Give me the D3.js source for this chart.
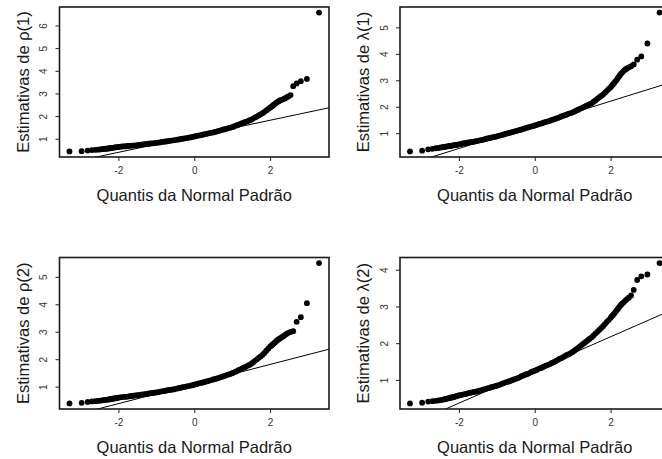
<!DOCTYPE html>
<html>
<head>
<meta charset="utf-8">
<script src="https://cdn.jsdelivr.net/npm/d3@7"></script>
<style>
  html, body { margin: 0; padding: 0; background: #fff; }
  svg { display: block; }
</style>
</head>
<body>
<svg id="fig" width="662" height="459"></svg>
<script>
// Quantis teóricos da normal padrão dos pontos desenhados (caudas + faixa central)
const quantisNormais = [
  -3.29, -2.97, -2.81, -2.70, -2.61, -2.54, -2.48, -2.43, -2.39, -2.35,
  -2.31, -2.27, -2.24, -2.21, -2.18, -2.15, -2.12, -2.09, -2.06, -2.03,
  -2.00, -1.95, -1.90, -1.85, -1.80, -1.75, -1.70, -1.65, -1.60, -1.55, -1.50,
  -1.45, -1.40, -1.35, -1.30, -1.25, -1.20, -1.15, -1.10, -1.05, -1.00,
  -0.95, -0.90, -0.85, -0.80, -0.75, -0.70, -0.65, -0.60, -0.55, -0.50,
  -0.45, -0.40, -0.35, -0.30, -0.25, -0.20, -0.15, -0.10, -0.05, 0.00,
  0.05, 0.10, 0.15, 0.20, 0.25, 0.30, 0.35, 0.40, 0.45, 0.50,
  0.55, 0.60, 0.65, 0.70, 0.75, 0.80, 0.85, 0.90, 0.95, 1.00,
  1.05, 1.10, 1.15, 1.20, 1.25, 1.30, 1.35, 1.40, 1.45, 1.50,
  1.55, 1.60, 1.65, 1.70, 1.75, 1.80,
  1.85, 1.90, 1.95, 2.00,
  2.03, 2.06, 2.09, 2.12, 2.15, 2.18, 2.21, 2.24, 2.27, 2.31,
  2.35, 2.39, 2.43, 2.48, 2.54, 2.61, 2.70, 2.81, 2.97, 3.29
];

// Estimativas ordenadas de rho(1)
const estRho1 = [
  0.44, 0.45, 0.48, 0.50, 0.51, 0.52, 0.53, 0.54, 0.55, 0.56,
  0.56, 0.57, 0.58, 0.58, 0.59, 0.60, 0.61, 0.62, 0.62, 0.63,
  0.64, 0.65, 0.66, 0.66, 0.67, 0.68, 0.69, 0.70, 0.70, 0.71, 0.72,
  0.73, 0.74, 0.75, 0.76, 0.77, 0.78, 0.79, 0.80, 0.81, 0.82,
  0.83, 0.84, 0.86, 0.87, 0.88, 0.89, 0.91, 0.92, 0.93, 0.94,
  0.96, 0.97, 0.99, 1.00, 1.02, 1.03, 1.05, 1.06, 1.08, 1.10,
  1.12, 1.14, 1.15, 1.17, 1.19, 1.21, 1.23, 1.25, 1.26, 1.28,
  1.30, 1.33, 1.35, 1.37, 1.40, 1.42, 1.44, 1.47, 1.49, 1.51,
  1.54, 1.58, 1.61, 1.64, 1.68, 1.71, 1.74, 1.77, 1.81, 1.84,
  1.89, 1.94, 1.98, 2.03, 2.08, 2.13,
  2.19, 2.25, 2.31, 2.37,
  2.41, 2.45, 2.49, 2.53, 2.57, 2.61, 2.64, 2.67, 2.70, 2.72,
  2.75, 2.78, 2.82, 2.87, 2.93, 3.32, 3.44, 3.54, 3.64, 6.57
];

// Estimativas ordenadas de lambda(1)
const estLambda1 = [
  0.31, 0.34, 0.39, 0.41, 0.43, 0.44, 0.46, 0.47, 0.48, 0.49,
  0.50, 0.51, 0.52, 0.52, 0.53, 0.54, 0.55, 0.55, 0.56, 0.57,
  0.58, 0.59, 0.61, 0.62, 0.63, 0.65, 0.66, 0.67, 0.68, 0.70, 0.71,
  0.73, 0.74, 0.76, 0.78, 0.80, 0.81, 0.83, 0.85, 0.86, 0.88,
  0.90, 0.92, 0.94, 0.96, 0.98, 1.00, 1.02, 1.04, 1.06, 1.08,
  1.10, 1.12, 1.14, 1.16, 1.19, 1.21, 1.23, 1.25, 1.27, 1.29,
  1.31, 1.34, 1.36, 1.38, 1.41, 1.43, 1.45, 1.47, 1.50, 1.52,
  1.55, 1.57, 1.60, 1.63, 1.66, 1.68, 1.71, 1.74, 1.76, 1.79,
  1.82, 1.86, 1.89, 1.93, 1.96, 1.99, 2.03, 2.06, 2.10, 2.13,
  2.19, 2.24, 2.30, 2.35, 2.41, 2.46,
  2.53, 2.60, 2.67, 2.74,
  2.79, 2.84, 2.89, 2.95, 3.00, 3.06, 3.12, 3.18, 3.24, 3.30,
  3.36, 3.41, 3.45, 3.49, 3.53, 3.60, 3.78, 3.90, 4.39, 5.56
];

// Estimativas ordenadas de rho(2)
const estRho2 = [
  0.39, 0.41, 0.44, 0.46, 0.47, 0.48, 0.49, 0.50, 0.51, 0.52,
  0.52, 0.53, 0.54, 0.54, 0.55, 0.56, 0.57, 0.57, 0.58, 0.59,
  0.60, 0.61, 0.62, 0.63, 0.63, 0.64, 0.65, 0.66, 0.67, 0.68, 0.69,
  0.70, 0.71, 0.72, 0.73, 0.74, 0.75, 0.76, 0.77, 0.78, 0.79,
  0.80, 0.82, 0.83, 0.84, 0.85, 0.87, 0.88, 0.89, 0.90, 0.92,
  0.93, 0.95, 0.96, 0.98, 0.99, 1.01, 1.02, 1.04, 1.05, 1.07,
  1.09, 1.11, 1.13, 1.14, 1.16, 1.18, 1.20, 1.22, 1.24, 1.26,
  1.28, 1.30, 1.32, 1.35, 1.37, 1.39, 1.42, 1.44, 1.46, 1.49,
  1.52, 1.55, 1.59, 1.62, 1.66, 1.69, 1.72, 1.76, 1.79, 1.83,
  1.88, 1.94, 1.99, 2.05, 2.10, 2.16,
  2.23, 2.31, 2.38, 2.46,
  2.49, 2.53, 2.57, 2.60, 2.64, 2.68, 2.71, 2.74, 2.77, 2.80,
  2.84, 2.88, 2.92, 2.96, 2.99, 3.02, 3.36, 3.53, 4.04, 5.50
];

// Estimativas ordenadas de lambda(2)
const estLambda2 = [
  0.36, 0.38, 0.41, 0.42, 0.43, 0.44, 0.45, 0.46, 0.47, 0.48,
  0.49, 0.50, 0.51, 0.52, 0.52, 0.53, 0.54, 0.55, 0.56, 0.57,
  0.58, 0.59, 0.60, 0.61, 0.62, 0.64, 0.65, 0.66, 0.67, 0.68, 0.69,
  0.71, 0.72, 0.74, 0.75, 0.77, 0.78, 0.80, 0.81, 0.83, 0.84,
  0.86, 0.88, 0.90, 0.92, 0.94, 0.95, 0.97, 0.99, 1.01, 1.03,
  1.05, 1.07, 1.10, 1.12, 1.14, 1.16, 1.18, 1.21, 1.23, 1.25,
  1.27, 1.30, 1.32, 1.34, 1.37, 1.39, 1.41, 1.43, 1.46, 1.48,
  1.51, 1.54, 1.57, 1.59, 1.62, 1.65, 1.68, 1.70, 1.73, 1.76,
  1.80, 1.84, 1.88, 1.92, 1.96, 2.00, 2.04, 2.08, 2.12, 2.16,
  2.21, 2.26, 2.31, 2.36, 2.41, 2.46,
  2.52, 2.58, 2.63, 2.69,
  2.73, 2.76, 2.80, 2.84, 2.88, 2.92, 2.96, 3.00, 3.04, 3.08,
  3.12, 3.16, 3.20, 3.24, 3.30, 3.45, 3.72, 3.82, 3.87, 4.18
];

// Reta de referência (qqline) de cada painel: intercepto e inclinação
const retaIntercepto = [1.109, 1.316, 1.095, 1.270];
const retaInclinacao = [0.354, 0.447, 0.357, 0.452];

const ticksX = [-2, 0, 2];
const ticksY = [[1, 2, 3, 4, 5, 6], [1, 2, 3, 4, 5], [1, 2, 3, 4, 5], [1, 2, 3, 4]];
const rotulosY = ["Estimativas de ρ(1)", "Estimativas de λ(1)", "Estimativas de ρ(2)", "Estimativas de λ(2)"];
const rotuloX = "Quantis da Normal Padrão";

const series = [estRho1, estLambda1, estRho2, estLambda2];

// Regiões de plotagem dos quatro painéis (2 x 2)
const regioes = [
  { x: 59.5, y: 7,     w: 269.5, h: 150 },
  { x: 400,  y: 7,     w: 269.5, h: 150 },
  { x: 59.5, y: 257.5, w: 269.5, h: 151.5 },
  { x: 400,  y: 257.5, w: 269.5, h: 151.5 }
];

const fonte = "'Liberation Sans', Arial, Helvetica, sans-serif";
const svg = d3.select("#fig");

// Extensão de 4% como nos gráficos do R
function faixa(vals) {
  const [a, b] = d3.extent(vals);
  const e = (b - a) * 0.04;
  return [a - e, b + e];
}

series.forEach((vals, k) => {
  const r = regioes[k];
  const x = d3.scaleLinear().domain(faixa(quantisNormais)).range([r.x, r.x + r.w]);
  const y = d3.scaleLinear().domain(faixa(vals)).range([r.y + r.h, r.y]);
  const g = svg.append("g");

  const clipId = "clip" + k;
  svg.append("clipPath").attr("id", clipId)
    .append("rect").attr("x", r.x).attr("y", r.y).attr("width", r.w).attr("height", r.h);

  // pontos
  g.append("g").selectAll("circle")
    .data(quantisNormais.map((q, i) => [q, vals[i]]))
    .join("circle")
    .attr("cx", d => x(d[0]))
    .attr("cy", d => y(d[1]))
    .attr("r", 2.9)
    .attr("fill", "#000");

  // reta de referência
  const [x0, x1] = x.domain();
  g.append("line")
    .attr("clip-path", `url(#${clipId})`)
    .attr("x1", x(x0)).attr("y1", y(retaIntercepto[k] + retaInclinacao[k] * x0))
    .attr("x2", x(x1)).attr("y2", y(retaIntercepto[k] + retaInclinacao[k] * x1))
    .attr("stroke", "#000").attr("stroke-width", 1);

  // moldura
  g.append("rect")
    .attr("x", r.x).attr("y", r.y).attr("width", r.w).attr("height", r.h)
    .attr("fill", "none").attr("stroke", "#1a1a1a").attr("stroke-width", 1.6);

  // eixo x
  const ax = d3.axisBottom(x).tickValues(ticksX).tickSize(4).tickPadding(6)
    .tickFormat(d => d < 0 ? "-" + Math.abs(d) : String(d));
  const gx = g.append("g").attr("transform", `translate(0,${r.y + r.h})`).call(ax);
  gx.select(".domain").remove();
  gx.selectAll(".tick line").attr("stroke", "#222");
  gx.selectAll(".tick text").attr("font-family", fonte).attr("font-size", 10).attr("fill", "#333");

  // eixo y (rótulos paralelos ao eixo)
  const ay = d3.axisLeft(y).tickValues(ticksY[k]).tickSize(4).tickPadding(0).tickFormat(d3.format("d"));
  const gy = g.append("g").attr("transform", `translate(${r.x},0)`).call(ay);
  gy.select(".domain").remove();
  gy.selectAll(".tick line").attr("stroke", "#222");
  gy.selectAll(".tick text")
    .attr("font-family", fonte).attr("font-size", 10).attr("fill", "#333")
    .attr("x", null).attr("dy", null)
    .attr("text-anchor", "middle").attr("dominant-baseline", "central")
    .attr("transform", "translate(-16,0) rotate(-90)");

  // títulos dos eixos
  g.append("text")
    .attr("x", r.x + r.w / 2)
    .attr("y", r.y + r.h + 38)
    .attr("text-anchor", "middle").attr("dominant-baseline", "central")
    .attr("font-family", fonte).attr("font-size", 16.5).attr("fill", "#1a1a1a")
    .text(rotuloX);

  g.append("text")
    .attr("transform", `translate(${r.x - 37},${r.y + r.h / 2}) rotate(-90)`)
    .attr("text-anchor", "middle").attr("dominant-baseline", "central")
    .attr("font-family", fonte).attr("font-size", 16.5).attr("fill", "#1a1a1a")
    .text(rotulosY[k]);
});
</script>
</body>
</html>
